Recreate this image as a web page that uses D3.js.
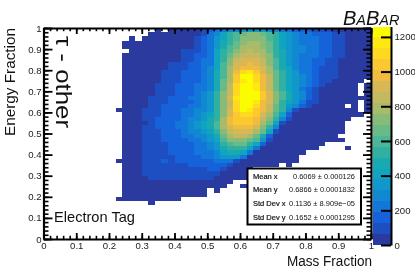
<!DOCTYPE html>
<html>
<head>
<meta charset="utf-8">
<script src="https://cdn.jsdelivr.net/npm/d3@7"></script>
<style>
  html, body { margin: 0; padding: 0; background: #fff; }
  text { font-family: "Liberation Sans", Arial, sans-serif; }
  #svg { display: block; filter: blur(0.35px); }
</style>
</head>
<body>
<svg id="svg"></svg>
<script>
const width = 415;
const height = 277;

const xTicks = [0, 0.1, 0.2, 0.3, 0.4, 0.5, 0.6, 0.7, 0.8, 0.9, 1];
const yTicks = [0, 0.1, 0.2, 0.3, 0.4, 0.5, 0.6, 0.7, 0.8, 0.9, 1];
const zTicks = [0, 200, 400, 600, 800, 1000, 1200];
const zMax = 1260;

// colour bar bands, bottom to top
const palette = [
    "#2b3a9e", "#1e4fc2", "#1562da", "#1276da", "#1188d2", "#0f98c9", "#0fa5c0", "#18aab0", "#2fb0a0", "#4cb698",
    "#68ba88", "#88bb78", "#a8bb6a", "#c4b860", "#d8b855", "#f0bc40", "#fcc830", "#ffd820", "#ffe810", "#fcfc00"
];

const nBins = 50;
const firstCol = 11;
const topRow = 49;

const binLevels = [
    [0,0,0,0,0,0,1,0,1,1,1,1,1, 2,3,4,4,5,5,6,6,6,6,5,5,4, 4,3,3,3,2,2,2,1,1,1,1,1,1],
    [0,0,0,0,0,1,1,1,1,1,1,1,1, 2,4,5,7,9,10,11,12,12,11,10,9,7, 6,5,4,4,3,3,3,2,2,1,1,1,1],
    [0,0,1,0,1,1,1,1,1,1,1,1,2, 3,4,6,7,9,10,12,12,12,12,10,9,7, 6,5,4,4,4,3,3,2,2,1,1,1,1],
    [0,1,1,1,1,1,1,1,1,1,1,1,2, 3,4,6,8,9,11,12,13,13,12,11,9,7, 6,5,4,4,4,3,3,2,2,1,1,1,1],
    [0,1,1,1,1,1,1,1,1,1,1,1,2, 3,4,6,8,10,11,13,13,13,12,11,9,7, 6,5,5,4,4,3,3,2,2,1,1,1,1],
    [0,0,1,1,1,1,1,1,1,1,2,2,2, 3,4,7,9,10,12,13,14,13,13,11,9,8, 6,5,5,4,4,3,3,2,2,1,1,1,1],
    [0,1,1,1,1,1,1,1,1,1,2,2,3, 3,4,7,9,11,13,14,14,14,13,12,9,8, 6,5,4,4,4,3,3,2,2,1,1,1,1],
    [0,1,1,1,1,1,1,1,1,1,2,2,3, 4,4,7,9,12,14,15,15,15,14,12,10,8, 6,5,4,4,3,3,2,2,1,1,1,1,1],
    [0,1,1,1,1,1,1,1,2,2,2,3,3, 4,4,7,10,12,15,15,16,15,14,12,10,8, 6,5,4,4,3,3,2,2,1,1,1,1,1],
    [0,1,1,1,1,1,1,1,2,2,2,3,3, 4,5,7,10,13,15,16,16,16,15,13,10,8, 7,5,4,4,3,2,2,2,1,1,1,1,1],
    [0,1,1,1,1,1,1,2,2,2,3,3,3, 4,5,8,10,13,16,18,19,17,15,13,11,9, 7,6,4,4,3,2,2,2,1,1,1,1,1],
    [0,1,1,1,1,1,1,2,2,2,3,3,3, 4,5,8,10,13,17,20,20,18,16,14,11,9, 7,6,5,4,3,2,2,2,1,1,1,1,1],
    [0,1,1,1,1,1,1,2,2,2,3,3,3, 4,5,8,11,13,17,19,20,18,16,14,11,9, 7,6,5,4,3,2,2,1,1,1,1,1,0],
    [0,1,1,1,1,1,2,2,2,3,3,3,4, 4,5,8,11,14,18,20,20,19,16,14,11,9, 7,6,5,4,3,2,1,1,1,1,1,0,1],
    [0,1,1,1,1,1,2,2,2,3,3,3,4, 4,5,8,11,14,18,20,20,19,16,14,11,9, 7,6,4,3,2,1,1,1,1,1,1,0,1],
    [0,1,1,1,1,1,2,2,2,3,3,3,4, 5,6,9,12,14,18,20,20,20,17,15,12,10, 8,6,5,3,2,1,1,1,1,1,1,0,1],
    [0,1,1,1,1,2,2,2,3,3,3,4,4, 5,6,9,12,15,19,20,20,20,17,15,12,10, 8,6,5,3,2,1,1,1,1,1,1,1,1],
    [0,1,1,1,1,2,2,2,3,3,3,3,4, 5,6,9,12,14,18,20,20,19,16,15,12,9, 7,6,4,2,2,1,1,1,1,1,1,0,1],
    [0,1,1,1,1,2,2,3,3,3,3,4,4, 5,6,9,12,14,18,20,20,18,16,14,11,9, 6,5,3,2,1,1,1,1,1,0,1,0,1],
    [1,1,1,1,2,2,2,3,3,3,4,4,5, 5,6,9,12,15,18,20,19,17,16,14,11,9, 5,2,1,1,1,1,1,1,1,1,1,0,1],
    [0,1,1,1,2,2,2,3,3,3,4,4,5, 6,7,9,12,15,17,18,18,17,15,13,10,7, 3,1,1,1,1,1,1,1,1,1,1,1,0],
    [0,1,1,1,2,2,3,3,3,3,4,5,5, 6,8,9,13,16,17,17,17,16,14,12,9,5, 2,1,1,1,1,1,1,1,1,1],
    [0,1,1,1,1,2,3,3,3,4,4,5,6, 7,8,10,13,16,17,17,17,16,13,11,7,2, 1,1,1,1,1,1,1,1,1],
    [0,1,1,1,2,2,3,3,3,4,4,5,6, 7,8,10,13,15,16,16,16,15,12,9,5,1, 1,1,1,1,1,1,1,1,1],
    [0,1,1,1,2,2,2,3,3,3,4,5,5, 6,7,9,12,14,15,15,15,13,11,7,2,1, 1,1,1,1,1,1,1,1,1],
    [0,1,1,1,2,2,2,3,3,3,4,4,5, 5,6,8,11,13,14,14,13,11,8,3,1,1, 1,1,1,1,1,1,1,1],
    [0,1,1,1,2,2,2,3,3,3,3,4,4, 5,6,7,10,12,12,12,11,10,6,2,1,1, 1,1,1,1,1,1,1,1,1],
    [0,1,1,1,2,2,2,2,3,3,3,3,4, 4,5,6,9,10,11,11,9,7,3,1,1,1, 1,1,1,1,1,1],
    [0,1,1,1,2,2,2,2,3,3,3,3,4, 4,5,6,8,9,9,9,7,4,1,1,1,1, 1,1,1,1,1,0,0,0,0,1],
    [0,1,1,1,2,2,2,2,3,3,3,3,4, 4,4,5,7,8,8,7,4,1,1,1,1,1, 1,1,1],
    [0,1,1,1,2,2,2,2,2,3,3,3,3, 4,4,5,6,6,6,4,1,1,1,1,1,1, 1,1],
    [1,1,1,1,2,2,2,3,2,3,3,3,3, 3,3,4,4,4,2,1,1,1,1,1,1,1, 1,1],
    [0,1,1,1,2,2,2,2,2,2,2,3,3, 3,3,3,3,2,1,1,1,1,1,1,1,0, 1],
    [0,1,1,1,2,2,2,2,2,2,2,2,2, 2,3,3,2,1,1,1,1],
    [0,1,1,1,2,2,2,2,2,2,2,2,2, 2,2,2,1,1,1,1,1],
    [0,1,1,1,1,2,2,2,2,2,2,2,2, 2,2,1,1,1,1,1,1],
    [0,1,1,1,1,1,1,1,1,1,1,1,1, 1,1,1,1,1],
    [0,1,1,1,1,1,1,1,1,1,1,1,1, 1,1,1,1,0,0,1],
    [0,1,1,1,1,1,1,1,1,1,1,1,1, 1,0,1],
    [0,1,1,1,1,1,1,1,1,1,1,1,1, 1],
    [1,1,1,1,1,1,1,1,1,1],
    [0,0,0,0,0,1]
];

const statNames = ["Mean x", "Mean y", "Std Dev x", "Std Dev y"];
const statValues = ["0.6069 ± 0.000126", "0.6866 ± 0.0001832", "0.1136 ± 8.909e\u221205", "0.1652 ± 0.0001295"];

const plot = { left: 43.5, right: 371, top: 28, bottom: 239 };
const bar = { left: 372.5, right: 391, top: 26.5, bottom: 245 };

const xScale = d3.scaleLinear().domain([0, 1]).range([plot.left, plot.right]);
const yScale = d3.scaleLinear().domain([0, 1]).range([plot.bottom, plot.top]);
const zScale = d3.scaleLinear().domain([0, zMax]).range([bar.bottom, bar.top]);
const colourScale = d3.scaleQuantize().domain([0, zMax]).range(palette);
const zStep = zMax / palette.length;

const minorTicks = d3.range(0, nBins + 1).map(i => i / nBins);

let svg = d3.select("#svg")
    .attr("width", width)
    .attr("height", height)
    .attr("viewBox", [0, 0, width, height]);

// flatten the level table into bins
let bins = [];
binLevels.forEach((row, r) => {
    row.forEach((level, c) => {
        if (level > 0) {
            bins.push({ col: firstCol + c, row: topRow - r, count: (level - 0.5) * zStep });
        }
    });
});

svg.append("g")
    .attr("shape-rendering", "crispEdges")
    .selectAll(".bin")
    .data(bins)
    .enter()
    .append("rect")
        .attr("class", "bin")
        .attr("x", d => xScale(d.col / nBins))
        .attr("y", d => yScale((d.row + 1) / nBins))
        .attr("width", d => xScale((d.col + 1) / nBins) - xScale(d.col / nBins))
        .attr("height", d => yScale(d.row / nBins) - yScale((d.row + 1) / nBins))
        .attr("fill", d => colourScale(d.count));

// colour bar
svg.append("g")
    .attr("shape-rendering", "crispEdges")
    .selectAll(".band")
    .data(palette)
    .enter()
    .append("rect")
        .attr("class", "band")
        .attr("x", bar.left)
        .attr("y", (d, i) => zScale((i + 1) * zStep))
        .attr("width", bar.right - bar.left)
        .attr("height", (d, i) => zScale(i * zStep) - zScale((i + 1) * zStep))
        .attr("fill", d => d);

// draws one side of the frame, big ticks with labels if wanted plus the small ones
function drawAxis(axisFn, scale, offset, major, minorSize, majorSize, padding) {
    svg.append("g")
        .attr("transform", offset)
        .call(axisFn(scale).tickValues(minorTicks).tickSize(minorSize).tickFormat(""))
        .call(g => g.select(".domain").remove())
        .selectAll("line").attr("stroke", "#000").attr("stroke-width", 1.6);

    let g = svg.append("g")
        .attr("transform", offset)
        .call(axisFn(scale).tickValues(major).tickSize(majorSize).tickSizeOuter(0)
            .tickPadding(padding === null ? 3 : padding)
            .tickFormat(padding === null ? "" : d => d));
    g.select(".domain").attr("stroke", "#000").attr("stroke-width", 2.2);
    g.selectAll("line").attr("stroke", "#000").attr("stroke-width", 1.8);
    g.selectAll("text").attr("font-size", "9.6px").attr("fill", "#222");
}

drawAxis(d3.axisBottom, xScale, `translate(0, ${plot.bottom})`, xTicks, -3.2, -6, 3.5);
drawAxis(d3.axisTop, xScale, `translate(0, ${plot.top})`, xTicks, -3.2, -6, null);
drawAxis(d3.axisLeft, yScale, `translate(${plot.left}, 0)`, yTicks, -5, -9, 2);
drawAxis(d3.axisRight, yScale, `translate(${plot.right}, 0)`, yTicks, -4.5, -8, null);

// colour bar axis
let zAxis = svg.append("g")
    .attr("transform", `translate(${bar.right}, 0)`)
    .call(d3.axisRight(zScale).tickValues(zTicks).tickSize(-10).tickSizeOuter(0).tickPadding(3.5).tickFormat(d => d));
zAxis.select(".domain").attr("stroke", "#000").attr("stroke-width", 2);
zAxis.selectAll("line").attr("stroke", "#000").attr("stroke-width", 2);
zAxis.selectAll("text").attr("font-size", "9.6px").attr("fill", "#222");

// stats box
svg.append("rect")
    .attr("x", 247.5)
    .attr("y", 168.5)
    .attr("width", 113.5)
    .attr("height", 56)
    .attr("fill", "#fff")
    .attr("stroke", "#000")
    .attr("stroke-width", 2);

const statBaselines = [178.5, 191.5, 205.5, 219.5];
const statWidths = [62, 66, 66, 66];

svg.selectAll(".stat-name")
    .data(statNames)
    .enter()
    .append("text")
        .attr("class", "stat-name")
        .attr("x", 253)
        .attr("y", (d, i) => statBaselines[i])
        .attr("font-size", "7.5px")
        .attr("fill", "#111")
        .attr("stroke", "#111")
        .attr("stroke-width", 0.2)
        .text(d => d);

svg.selectAll(".stat-value")
    .data(statValues)
    .enter()
    .append("text")
        .attr("class", "stat-value")
        .attr("x", 355)
        .attr("y", (d, i) => statBaselines[i])
        .attr("text-anchor", "end")
        .attr("font-size", "8px")
        .attr("fill", "#111")
        .attr("textLength", (d, i) => statWidths[i])
        .attr("lengthAdjust", "spacingAndGlyphs")
        .text(d => d);

// titles
svg.append("text")
    .text("Mass Fraction")
    .attr("x", 287)
    .attr("y", 266)
    .attr("font-size", "15.5px")
    .attr("fill", "#111")
    .attr("textLength", 85)
    .attr("lengthAdjust", "spacingAndGlyphs");

svg.append("text")
    .text("Energy Fraction")
    .attr("transform", "translate(14.5, 136) rotate(-90)")
    .attr("font-size", "15.5px")
    .attr("fill", "#111")
    .attr("textLength", 108)
    .attr("lengthAdjust", "spacingAndGlyphs");

svg.append("text")
    .text("τ - other")
    .attr("transform", "translate(56, 36) rotate(90)")
    .attr("font-size", "22px")
    .attr("fill", "#111")
    .attr("textLength", 92)
    .attr("lengthAdjust", "spacingAndGlyphs");

svg.append("text")
    .text("Electron Tag")
    .attr("x", 54)
    .attr("y", 222)
    .attr("font-size", "15px")
    .attr("fill", "#111")
    .attr("textLength", 81)
    .attr("lengthAdjust", "spacingAndGlyphs");

let babar = svg.append("text")
    .attr("x", 343)
    .attr("y", 25)
    .attr("font-style", "italic")
    .attr("fill", "#111");
[["B", 20], ["A", 14.5], ["B", 20], ["A", 14.5], ["R", 14.5]].forEach(p => {
    babar.append("tspan").attr("font-size", p[1] + "px").text(p[0]);
});
</script>
</body>
</html>
